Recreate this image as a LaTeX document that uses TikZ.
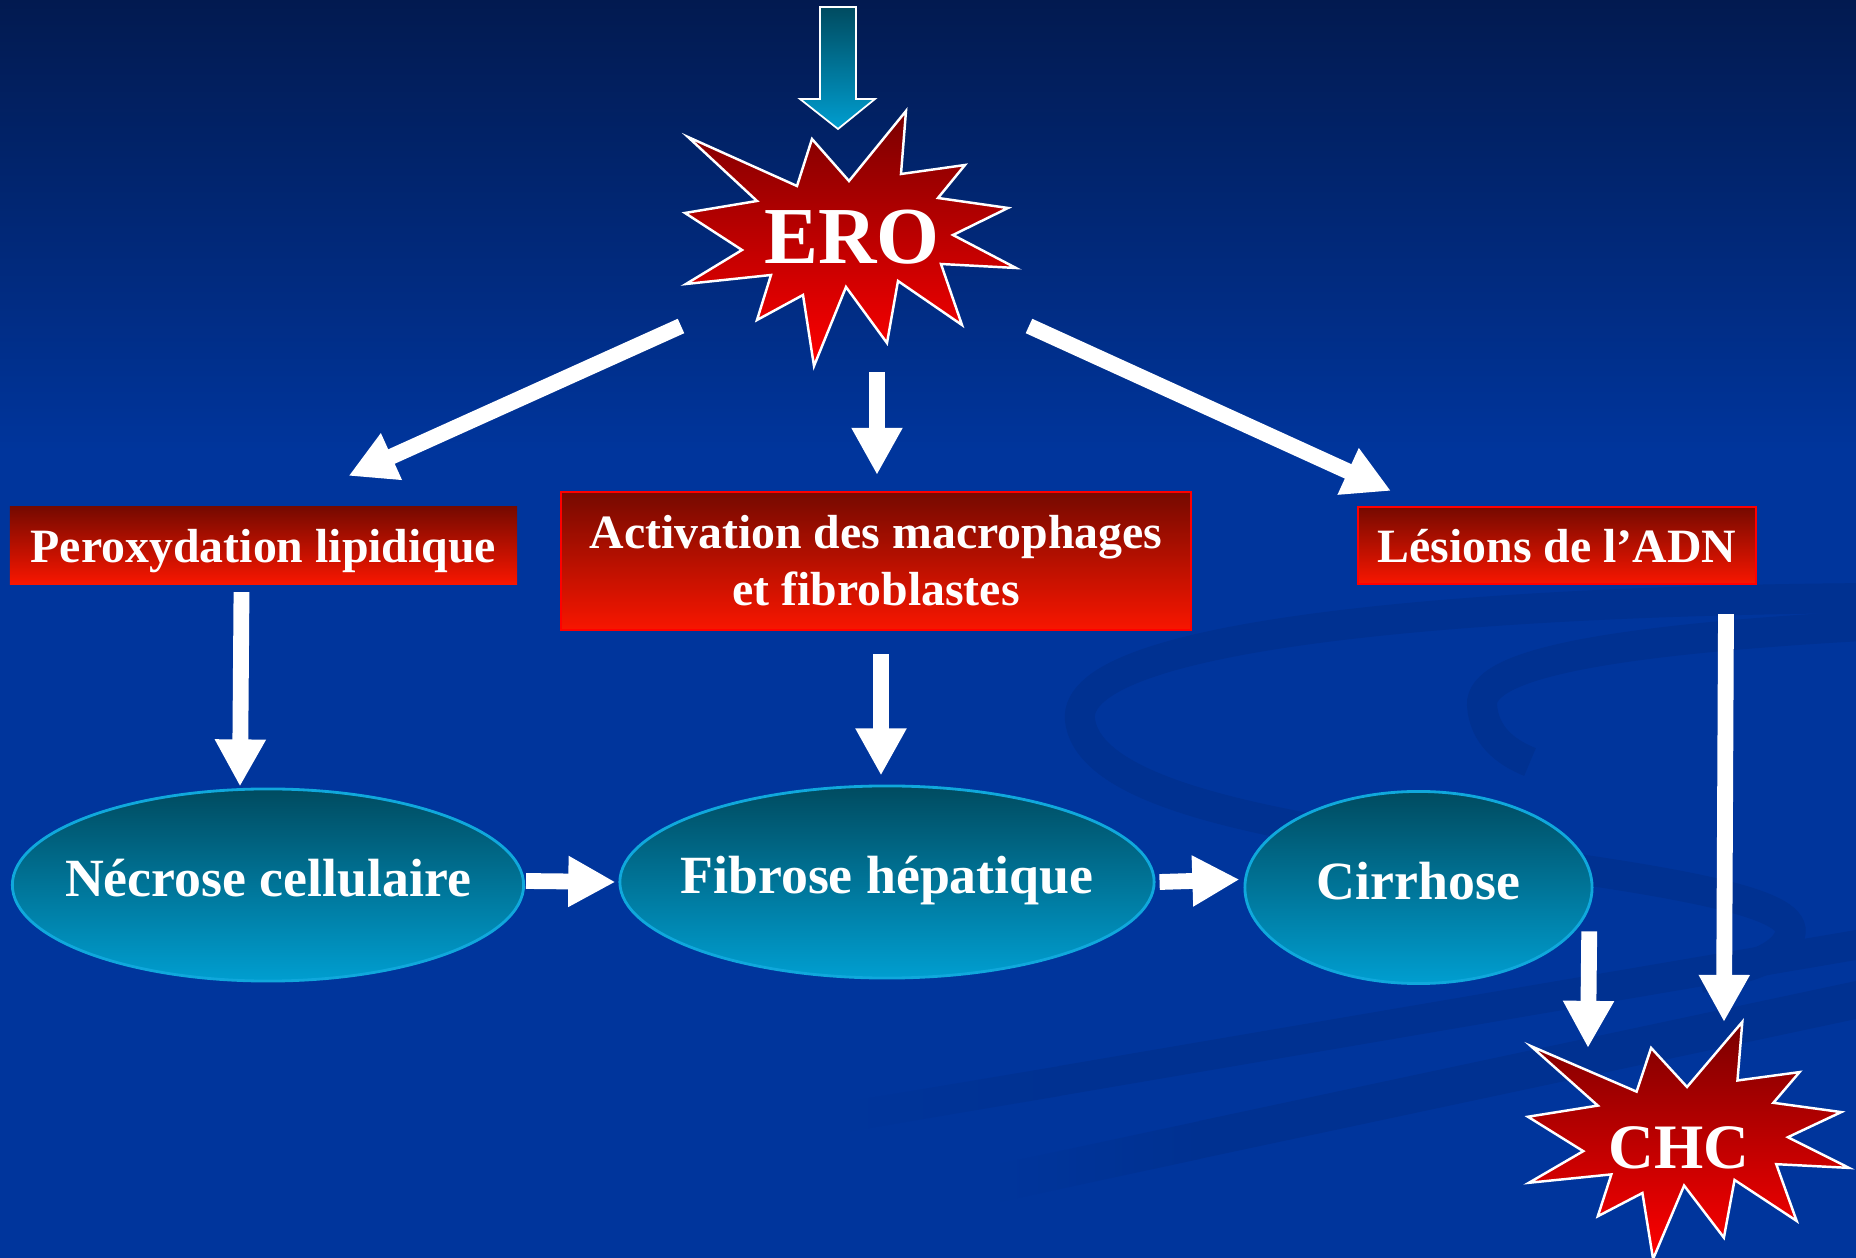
\documentclass[tikz,border=0pt]{standalone}
\usepackage{fontspec}
\setmainfont{Liberation Serif}
\usetikzlibrary{shapes.geometric,arrows.meta}

\definecolor{bgtop}{HTML}{021A50}
\definecolor{bgblue}{HTML}{00359C}
\definecolor{swoosh}{HTML}{003191}
\definecolor{redtop}{HTML}{760A00}
\definecolor{redbot}{HTML}{F81600}
\definecolor{tealtop}{HTML}{004B60}
\definecolor{tealbot}{HTML}{009ED0}
\definecolor{tealline}{HTML}{10A8DC}
\definecolor{bursttop}{HTML}{7A0000}
\definecolor{burstbot}{HTML}{FF0000}

% corners of the red burst, around its centre
\newcommand\burstpts{(-162,-101) -- (-53,-52) -- (-38,-99) -- (-1,-57) -- (56,-127)
  -- (51,-64) -- (115,-73) -- (88,-40) -- (158,-30) -- (103,-3) -- (166,30)
  -- (91,26) -- (112,87) -- (48,43) -- (37,105) -- (-4,49) -- (-36,128)
  -- (-47,57) -- (-93,82) -- (-79,37) -- (-164,46) -- (-108,12) -- (-165,-25)
  -- (-93,-37) -- cycle}

\begin{document}
\begin{tikzpicture}[x=0.01cm,y=-0.01cm,
    box/.style={rectangle,draw=red,line width=0.6pt,top color=redtop,bottom color=redbot,
      inner sep=0pt,minimum height=0.77cm,text=white,align=center,
      font=\bfseries\fontsize{13.6}{16.2}\selectfont},
    oval/.style={ellipse,draw=tealline,line width=0.8pt,top color=tealtop,bottom color=tealbot,
      inner sep=0pt,minimum height=1.92cm,text=white,text depth=4pt,
      font=\bfseries\fontsize{15.3}{18}\selectfont},
    burst/.style={top color=bursttop,bottom color=burstbot,draw=white,line width=0.7pt},
    fat/.style={draw=white,line width=4.5pt,-{Triangle[length=13.4pt,width=13.6pt]}},
    band/.style={swoosh,line width=0.3cm}]
    \useasboundingbox (0,0) rectangle (1856,1258);
    \fill[bgblue] (0,0) rectangle (1856,1258);
    \shade[top color=bgtop,bottom color=bgblue] (0,0) rectangle (1856,450);

    % swooshes in the background
    \begin{scope}
        \clip (0,0) rectangle (1856,1258);
        \draw[band] (1880,598) .. controls (1500,600) and (1070,630) .. (1080,720)
            .. controls (1090,800) and (1300,830) .. (1500,858)
            .. controls (1700,885) and (1800,905) .. (1790,935)
            .. controls (1782,960) and (1740,970) .. (1700,978);
        \draw[band] (1880,625) .. controls (1600,640) and (1480,665) .. (1482,705)
            .. controls (1484,735) and (1505,752) .. (1530,762);
        % the two straight ones fade out on the left
        \shade[left color=bgblue,right color=swoosh] (840,1103) -- (1060,1066) -- (1060,1096) -- (840,1133) -- cycle;
        \fill[swoosh] (1059,1066) -- (1856,930) -- (1856,960) -- (1059,1096) -- cycle;
        \shade[left color=bgblue,right color=swoosh] (990,1166) -- (1200,1121) -- (1200,1159) -- (990,1204) -- cycle;
        \fill[swoosh] (1199,1121) -- (1856,981) -- (1856,1019) -- (1199,1159) -- cycle;
    \end{scope}

    % incoming arrow on top
    \shade[top color=tealtop,bottom color=tealbot,draw=white,line width=0.5pt]
        (820,7) -- (856,7) -- (856,99) -- (875,99) -- (838,129) -- (800,99) -- (820,99) -- cycle;

    \foreach \x/\y/\sx/\sy in {850/238/1/1,1688/1140/0.97/0.93}
        \shade[burst,shift={(\x,\y)},xscale=\sx,yscale=\sy] \burstpts;

    \node[text=white,font=\bfseries\fontsize{23}{25}\selectfont] (ero) at (852,237) {ERO};
    \node[text=white,font=\bfseries\fontsize{18}{20}\selectfont] (chc) at (1679,1148) {CHC};

    \node[box,draw=none,text depth=0pt,minimum width=5.07cm] (perox) at (263.5,545.5) {Peroxydation lipidique};
    \node[box,minimum width=6.30cm,minimum height=1.38cm] (act) at (876,561)
        {Activation des macrophages\\et fibroblastes};
    \node[box,text depth=0pt,minimum width=3.98cm] (lesion) at (1557,545.5) {Lésions de l’ADN};

    \node[oval,minimum width=5.11cm] (nec) at (268,885) {\makebox[0pt]{Nécrose cellulaire}};
    \node[oval,minimum width=5.34cm] (fib) at (887,882) {\makebox[0pt]{Fibrose hépatique}};
    \node[oval,minimum width=3.47cm] (cir) at (1418.5,887.5) {\makebox[0pt]{Cirrhose}};

    \draw[fat] ([shift={(-171,89)}]ero.center) -- ([shift={(85,-30)}]perox.north);
    \draw[fat] ([shift={(25,135)}]ero.center) -- ([shift={(1,-16)}]act.north);
    \draw[fat] ([shift={(177,89)}]ero.center) -- ([shift={(-166,-15)}]lesion.north);
    \draw[fat] ([shift={(-22,7)}]perox.south) -- ([shift={(-28,-1)}]nec.north);
    \draw[fat] ([shift={(5,23)}]act.south) -- ([shift={(-6,-9)}]fib.north);
    \draw[fat] ([shift={(1,-4)}]nec.east) -- ([shift={(-3,0)}]fib.west);
    \draw[fat] ([shift={(4,0)}]fib.east) -- ([shift={(-4,-8)}]cir.west);
    \draw[fat] ([shift={(47,-25)}]cir.south east) -- ([shift={(-91,-100)}]chc.center);
    \draw[fat] ([shift={(169,29)}]lesion.south) -- ([shift={(45,-126)}]chc.center);
\end{tikzpicture}
\end{document}
